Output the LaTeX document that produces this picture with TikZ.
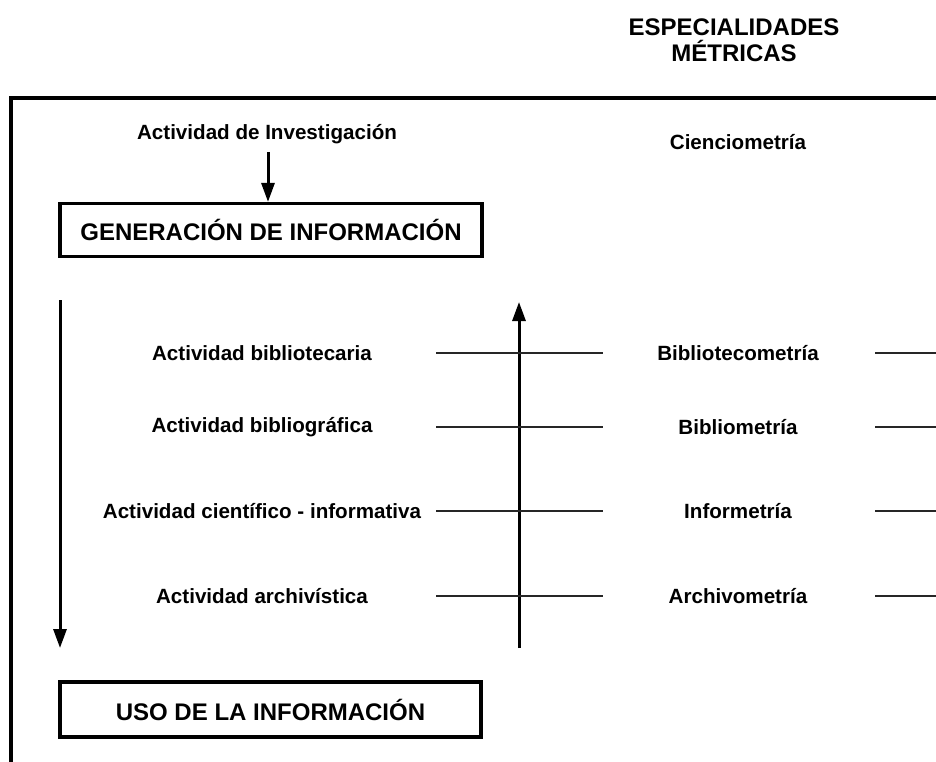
\documentclass[tikz,border=0pt]{standalone}
\usepackage{fontspec}
\setmainfont{Liberation Sans}
\usetikzlibrary{arrows.meta}
\begin{document}
\begin{tikzpicture}[x=1pt,y=-1pt,
  lbl/.style={font=\fontsize{20.6}{24}\selectfont\bfseries, inner sep=0pt, anchor=center},
  head/.style={font=\fontsize{24}{26}\selectfont\bfseries, inner sep=0pt, align=center},
  bigbox/.style={draw, line width=3.2pt, minimum height=53pt, inner sep=0pt, font=\fontsize{24}{28}\selectfont\bfseries},
  arr/.style={line width=3pt, -{Triangle[length=19pt,width=13pt]}},
  hline/.style={line width=2.6pt, draw=black!85}]
\useasboundingbox (0,0) rectangle (936,762);
% frame
\draw[line width=3.4pt] (940,98) -- (11,98) -- (11,766);
% heading
\node[head] (esp) at (734,40) {ESPECIALIDADES\\MÉTRICAS};
\node[lbl] (cien) at (738,142) {Cienciometría};
\node[lbl] (inv) at (267,134) {Actividad de Investigación};
\node[bigbox, minimum width=422pt] (gen) at (271,230) {GENERACIÓN DE INFORMACIÓN};
\coordinate (invs) at (268,152);
\draw[arr] (invs) -- (invs |- gen.north);
% vertical arrows
\coordinate (dtop) at (60,300);
\coordinate (dbot) at (60,648);
\draw[arr] (dtop) -- (dbot);
\coordinate (ubot) at (519,648);
\coordinate (utop) at (519,302);
\draw[arr] (ubot) -- (utop);
% left labels
\node[lbl] (a1) at (262,353) {Actividad bibliotecaria};
\node[lbl] (a2) at (262,427) {Actividad bibliográfica};
\node[lbl] (a3) at (262,511) {Actividad científico - informativa};
\node[lbl] (a4) at (262,596) {Actividad archivística};
% middle labels
\node[lbl] (m1) at (738,353) {Bibliotecometría};
\node[lbl] (m2) at (738,427) {Bibliometría};
\node[lbl] (m3) at (738,511) {Informetría};
\node[lbl] (m4) at (738,596) {Archivometría};
% connector lines
\foreach \i/\y in {1/353,2/427,3/511,4/596}{
  \coordinate (l\i a) at (436,\y);
  \coordinate (l\i b) at (603,\y);
  \coordinate (r\i a) at (875,\y);
  \coordinate (r\i b) at (940,\y);
  \draw[hline] (l\i a) -- (l\i b);
  \draw[hline] (r\i a) -- (r\i b);
}
% bottom box
\node[bigbox, minimum width=421pt, minimum height=55pt] (uso) at (270.5,709.5) {USO DE LA INFORMACIÓN};
\end{tikzpicture}
\end{document}
